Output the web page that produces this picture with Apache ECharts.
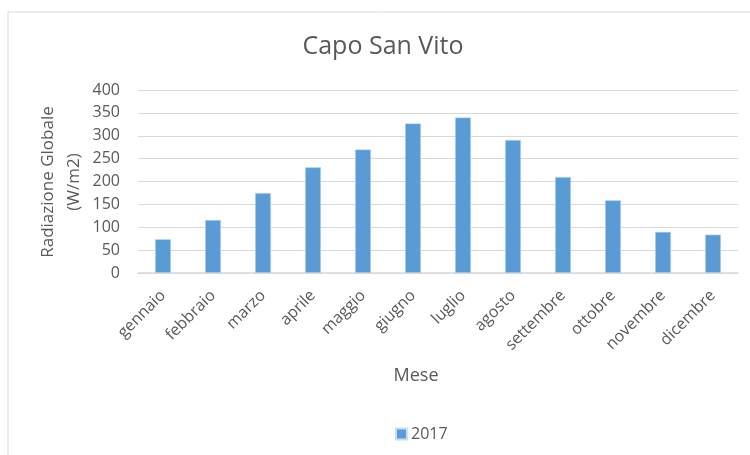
<!DOCTYPE html>
<html>
<head>
<meta charset="utf-8">
<script src="https://cdn.jsdelivr.net/npm/echarts@6/dist/echarts.min.js"></script>
<style>
  html, body { margin: 0; padding: 0; background: #fff; }
  #chart { width: 750px; height: 455px; }
</style>
</head>
<body>
<div id="chart"></div>
<script>
  // dati
  var mesi = ['gennaio', 'febbraio', 'marzo', 'aprile', 'maggio', 'giugno',
              'luglio', 'agosto', 'settembre', 'ottobre', 'novembre', 'dicembre'];
  var radiazione2017 = [74, 116, 175, 231, 270, 327, 340, 291, 210, 159, 90, 84];
  var serieNome = '2017';

  var font = '"Open Sans", sans-serif';
  var grigio = '#595959';

  var myChart = echarts.init(document.getElementById('chart'), null, { renderer: 'canvas' });
  myChart.setOption({
    animation: false,
    textStyle: { fontFamily: font },
    graphic: [
      {
        type: 'rect',
        shape: { x: 8, y: 12, width: 760, height: 460 },
        style: { fill: 'none', stroke: '#d9d9d9', lineWidth: 1 },
        silent: true
      },
      {
        type: 'text',
        x: 383, y: 47,
        style: { text: 'Capo San Vito', fontSize: 25, fontFamily: font, fill: grigio,
                 align: 'center', verticalAlign: 'middle' }
      },
      {
        // titolo asse verticale
        type: 'text',
        x: 61, y: 182,
        rotation: Math.PI / 2,
        style: { text: 'Radiazione Globale\n(W/m2)', fontSize: 17, fontFamily: font, fill: grigio,
                 lineHeight: 26, align: 'center', verticalAlign: 'middle' }
      },
      {
        type: 'text',
        x: 416, y: 376,
        style: { text: 'Mese', fontSize: 18, fontFamily: font, fill: grigio,
                 align: 'center', verticalAlign: 'middle' }
      }
    ],
    legend: {
      data: [serieNome],
      icon: 'rect',
      left: 395,
      top: 426,
      padding: 0,
      itemWidth: 11,
      itemHeight: 11,
      itemGap: 6,
      textStyle: { color: grigio, fontSize: 16, fontFamily: font, padding: [0, 0, 0, -1] }
    },
    grid: {
      left: 138,
      right: 12,
      top: 90,
      bottom: 182
    },
    xAxis: {
      type: 'category',
      data: mesi,
      axisLine: { lineStyle: { color: '#d9d9d9', width: 1.5 } },
      axisTick: { show: false },
      axisLabel: {
        rotate: 45,
        margin: 20,
        color: grigio,
        fontSize: 16,
        fontFamily: font,
        interval: 0
      }
    },
    yAxis: {
      type: 'value',
      min: 0,
      max: 400,
      interval: 50,
      axisLine: { show: false },
      axisTick: { show: false },
      axisLabel: { color: grigio, fontSize: 16, fontFamily: font, margin: 18 },
      splitLine: { lineStyle: { color: '#d9d9d9', width: 1 } }
    },
    series: [{
      name: serieNome,
      type: 'bar',
      data: radiazione2017,
      barWidth: 16,
      itemStyle: { color: '#5b9bd5', borderColor: '#c9ddf1', borderWidth: 0.6 }
    }]
  });
  window.addEventListener('resize', function () {
    myChart.resize();
  });
</script>
</body>
</html>
